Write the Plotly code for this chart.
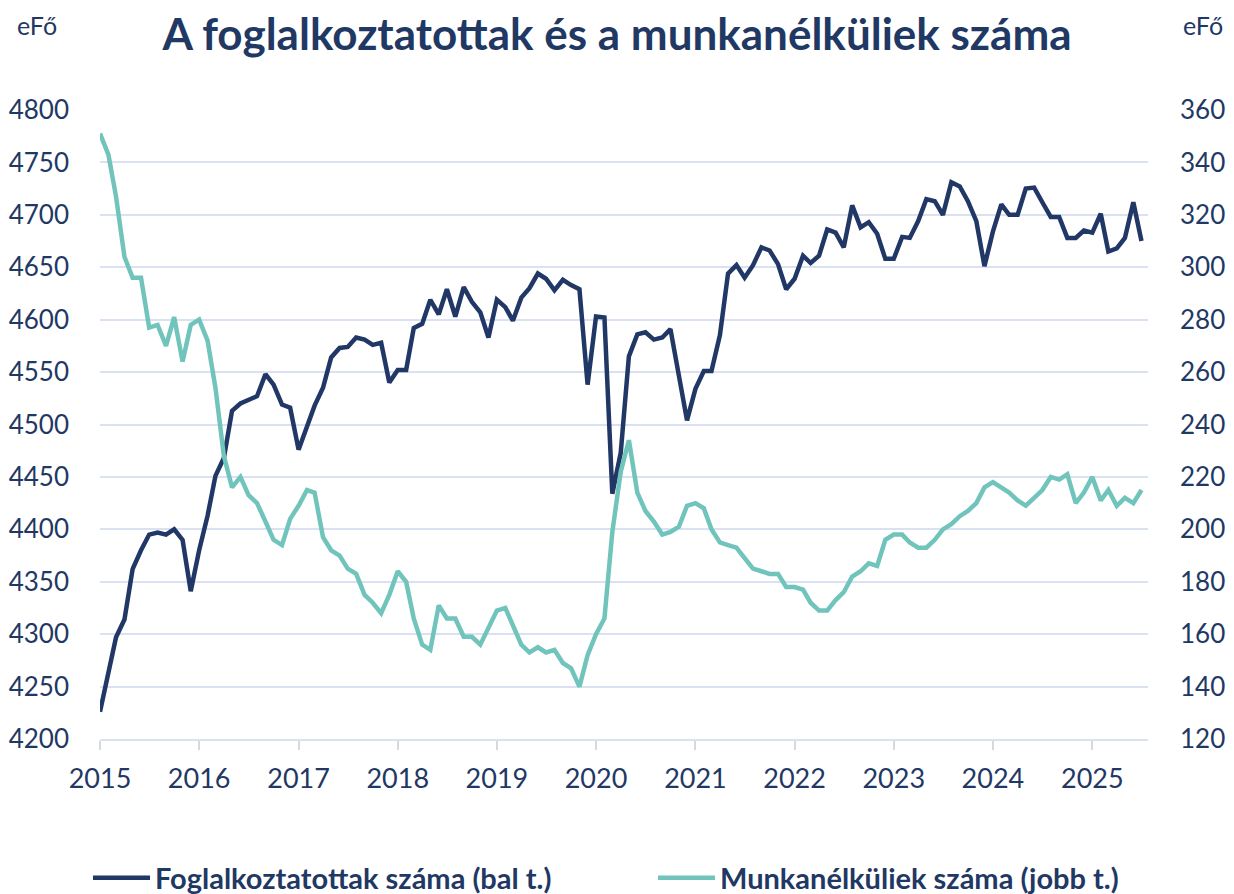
import pandas as pd
import plotly.graph_objects as go

# Monthly data, Jan 2015 - Jul 2025
months = pd.date_range("2015-01-01", periods=127, freq="MS")

foglalkoztatottak = [
    4226, 4265, 4297, 4314, 4362, 4380, 4395, 4397, 4395, 4400, 4390, 4341,
    4380, 4413, 4451, 4468, 4513, 4520, 4523, 4527, 4548, 4538, 4519, 4516,
    4476, 4497, 4518, 4535, 4564, 4573, 4574, 4583, 4581, 4576, 4578, 4540,
    4552, 4552, 4592, 4596, 4619, 4605, 4629, 4603, 4631, 4617, 4607, 4583,
    4619, 4612, 4599, 4621, 4630, 4644, 4639, 4628, 4638, 4633, 4629, 4538,
    4603, 4602, 4434, 4473, 4565, 4586, 4588, 4581, 4583, 4591, 4548, 4504,
    4534, 4551, 4551, 4585, 4644, 4652, 4640, 4652, 4669, 4666, 4653, 4629,
    4639, 4661, 4654, 4661, 4686, 4683, 4669, 4709, 4688, 4693, 4682, 4658,
    4658, 4679, 4678, 4694, 4715, 4713, 4700, 4731, 4727, 4713, 4694, 4651,
    4684, 4710, 4700, 4700, 4725, 4726, 4712, 4698, 4698, 4678, 4678, 4685,
    4683, 4701, 4665, 4668, 4678, 4712, 4675,
]

munkanelkuliek = [
    351, 343, 327, 304, 296, 296, 277, 278, 270, 281, 264, 278,
    280, 272, 254, 228, 216, 220, 213, 210, 203, 196, 194, 204,
    209, 215, 214, 197, 192, 190, 185, 183, 175, 172, 168, 175,
    184, 180, 166, 156, 154, 171, 166, 166, 159, 159, 156, 162,
    169, 170, 163, 156, 153, 155, 153, 154, 149, 147, 140, 152,
    160, 166, 199, 222, 234, 214, 207, 203, 198, 199, 201, 209,
    210, 208, 200, 195, 194, 193, 189, 185, 184, 183, 183, 178,
    178, 177, 172, 169, 169, 173, 176, 182, 184, 187, 186, 196,
    198, 198, 195, 193, 193, 196, 200, 202, 205, 207, 210, 216,
    218, 216, 214, 211, 209, 212, 215, 220, 219, 221, 210, 214,
    220, 211, 215, 209, 212, 210, 215,
]

title_text = "A foglalkoztatottak és a munkanélküliek száma"
name_emp = "Foglalkoztatottak száma (bal t.)"
name_unemp = "Munkanélküliek száma (jobb t.)"
unit_label = "eFő"

NAVY = "#1F3864"
DARK = "#213766"
TEAL = "#70C4BC"
GRID = "#D9E1F2"
FONT = "Lato"

# page has an 8px body margin; figure sized to fit the 1234x894 window
W, H = 1226, 886
ML, MR, MT = 92, 86, 102
PLOT_H = 629
MB = H - MT - PLOT_H

fig = go.Figure()
fig.add_trace(go.Scatter(
    x=months, y=foglalkoztatottak, name="<b>" + name_emp + "</b>", mode="lines",
    line=dict(color=DARK, width=4.5), yaxis="y", legend="legend",
))
fig.add_trace(go.Scatter(
    x=months, y=munkanelkuliek, name="<b>" + name_unemp + "</b>", mode="lines",
    line=dict(color=TEAL, width=4.5), yaxis="y2", legend="legend2",
))

legend_common = dict(
    orientation="h", xanchor="left", yref="container",
    y=1 - 870 / H, yanchor="middle", xref="container",
    font=dict(family=FONT, size=29, color=NAVY, weight="bold"),
    itemwidth=57, bgcolor="rgba(0,0,0,0)", borderwidth=0,
)

fig.update_layout(
    width=W, height=H,
    margin=dict(l=ML, r=MR, t=MT, b=MB, autoexpand=False),
    paper_bgcolor="white", plot_bgcolor="white",
    font=dict(family=FONT, color=NAVY),
    title=dict(text="<b>" + title_text + "</b>", x=609 / W, xanchor="center",
               y=1 - 27 / H, yanchor="middle", yref="container",
               font=dict(family=FONT, size=44, color=NAVY)),
    xaxis=dict(
        type="date", range=["2015-01-01", "2025-07-25"],
        tick0="2015-01-01", dtick="M12", tickformat="%Y",
        ticks="outside", ticklen=9, tickcolor="#D9D9D9", tickwidth=1.5,
        showline=True, linecolor=GRID, linewidth=2,
        showgrid=False, zeroline=False, automargin=False,
        tickfont=dict(family=FONT, size=27, color=NAVY),
        ticklabelstandoff=6,
    ),
    yaxis=dict(
        range=[4200, 4800], dtick=50, tick0=4200,
        showgrid=True, gridcolor=GRID, gridwidth=2,
        zeroline=False, showline=False, automargin=False,
        tickfont=dict(family=FONT, size=26, color=NAVY),
        ticklabelstandoff=30,
    ),
    yaxis2=dict(
        range=[120, 360], dtick=20, tick0=120,
        overlaying="y", side="right", automargin=False,
        showgrid=False, zeroline=False, showline=False,
        tickfont=dict(family=FONT, size=26, color=NAVY),
        ticklabelstandoff=31,
    ),
    legend=dict(legend_common, x=80 / W),
    legend2=dict(legend_common, x=645 / W),
    showlegend=True,
)

fig.add_annotation(text=unit_label, xref="paper", yref="paper",
                   x=(37 - 100) / 1048, y=(739 - 25) / 629,
                   showarrow=False, xanchor="center", yanchor="middle",
                   font=dict(family=FONT, size=25, color=NAVY))
fig.add_annotation(text=unit_label, xref="paper", yref="paper",
                   x=(1203 - 100) / 1048, y=(739 - 25) / 629,
                   showarrow=False, xanchor="center", yanchor="middle",
                   font=dict(family=FONT, size=25, color=NAVY))

fig.write_html("out.html")
